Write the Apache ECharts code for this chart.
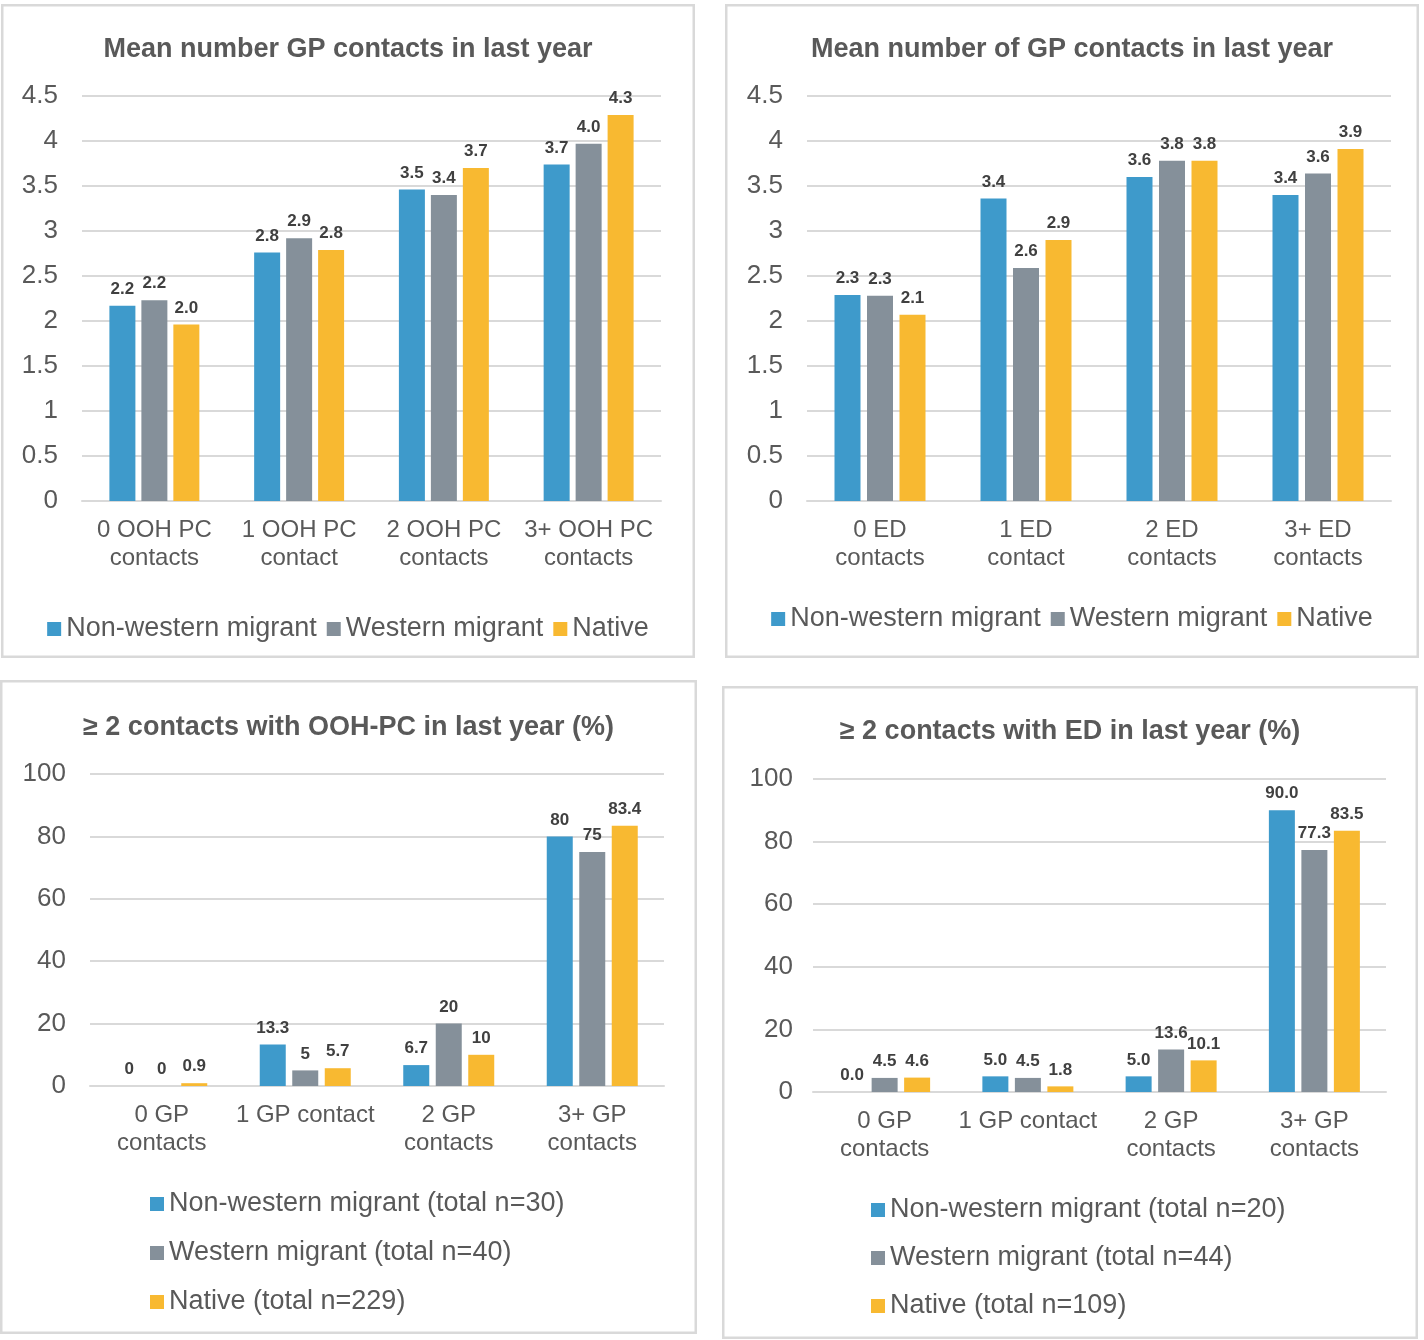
<!DOCTYPE html>
<html>
<head>
<meta charset="utf-8">
<script src="https://cdn.jsdelivr.net/npm/echarts@6/dist/echarts.min.js"></script>
<style>
html,body{margin:0;padding:0;background:#fff;}
body{width:1424px;height:1340px;position:relative;overflow:hidden;}
.p{position:absolute;}
</style>
</head>
<body>
<div id="tl" class="p" style="left:1px;top:4px;width:694px;height:654px;"></div>
<div id="tr" class="p" style="left:725px;top:4px;width:694px;height:654px;"></div>
<div id="bl" class="p" style="left:0px;top:680px;width:697px;height:654px;"></div>
<div id="br" class="p" style="left:722px;top:686px;width:696px;height:653px;"></div>
<script>
// ---- Data ----
const catsOOH = ['0 OOH PC\ncontacts', '1 OOH PC\ncontact', '2 OOH PC\ncontacts', '3+ OOH PC\ncontacts'];
const catsED = ['0 ED\ncontacts', '1 ED\ncontact', '2 ED\ncontacts', '3+ ED\ncontacts'];
const catsGP = ['0 GP\ncontacts', '1 GP contact', '2 GP\ncontacts', '3+ GP\ncontacts'];

const groupsTop = ['Non-western migrant', 'Western migrant', 'Native'];
const groupsBL = ['Non-western migrant (total n=30)', 'Western migrant (total n=40)', 'Native (total n=229)'];
const groupsBR = ['Non-western migrant (total n=20)', 'Western migrant (total n=44)', 'Native (total n=109)'];

// Top-left: mean number GP contacts by OOH PC contacts
const tlNonWestern = [2.17, 2.76, 3.46, 3.74];
const tlWestern = [2.23, 2.92, 3.40, 3.97];
const tlNative = [1.96, 2.79, 3.70, 4.29];

// Top-right: mean number GP contacts by ED contacts
const trNonWestern = [2.29, 3.36, 3.60, 3.40];
const trWestern = [2.28, 2.59, 3.78, 3.64];
const trNative = [2.07, 2.90, 3.78, 3.91];

// Bottom-left: >=2 contacts with OOH-PC (%)
const blNonWestern = [0, 13.3, 6.7, 80];
const blWestern = [0, 5, 20, 75];
const blNative = [0.9, 5.7, 10, 83.4];

// Bottom-right: >=2 contacts with ED (%)
const brNonWestern = [0.0, 5.0, 5.0, 90.0];
const brWestern = [4.5, 4.5, 13.6, 77.3];
const brNative = [4.6, 1.8, 10.1, 83.5];

const titles = [
  'Mean number GP contacts in last year',
  'Mean number of GP contacts in last year',
  '\u2265 2 contacts with OOH-PC in last year (%)',
  '\u2265 2 contacts with ED in last year (%)'
];

// ---- Styling ----
const COLORS = ['#3E9ACB', '#85909A', '#F8B931'];
const FONT = '"Liberation Sans", Arial, Helvetica, sans-serif';
const TXT = '#595959';

function build(el, cfg) {
  const chart = echarts.init(document.getElementById(el), null, {renderer: 'canvas'});
  const w = chart.getWidth(), h = chart.getHeight();
  const series = cfg.names.map((n, i) => ({
    name: n,
    type: 'bar',
    data: cfg.values[i],
    barWidth: cfg.barWidth,
    barGap: cfg.barGap,
    itemStyle: {color: COLORS[i]},
    label: {
      show: true,
      position: 'top',
      distance: 8,
      fontFamily: FONT,
      fontSize: 17,
      fontWeight: 'bold',
      color: '#404040',
      formatter: p => cfg.fmt(p.value)
    }
  }));
  const option = {
    animation: false,
    color: COLORS,
    graphic: [{
      type: 'rect',
      shape: {x: 1.25, y: 1.25, width: w - 2.5, height: h - 2.5},
      style: {fill: 'none', stroke: '#D9D9D9', lineWidth: 2.5},
      silent: true
    }],
    title: {
      text: cfg.title,
      left: 'center',
      top: cfg.titleTop,
      textStyle: {fontFamily: FONT, fontSize: 27, fontWeight: 'bold', color: TXT, lineHeight: 30}
    },
    legend: Object.assign({
      data: cfg.names,
      icon: 'rect',
      itemWidth: 14,
      itemHeight: 14,
      textStyle: {fontFamily: FONT, fontSize: 27, color: TXT, lineHeight: 30}
    }, cfg.legend),
    grid: cfg.grid,
    xAxis: {
      type: 'category',
      data: cfg.cats,
      axisTick: {show: false},
      axisLine: {show: true, lineStyle: {color: '#D9D9D9', width: 2}},
      axisLabel: {fontFamily: FONT, fontSize: 24, color: TXT, margin: 15, lineHeight: 28, interval: 0}
    },
    yAxis: {
      type: 'value',
      min: 0,
      max: cfg.max,
      interval: cfg.interval,
      axisLine: {show: false},
      axisTick: {show: false},
      axisLabel: {fontFamily: FONT, fontSize: 26, color: TXT, margin: cfg.yMargin},
      splitLine: {lineStyle: {color: '#D9D9D9', width: 2}}
    },
    series: series
  };
  chart.setOption(option);
}

const fix1 = v => v.toFixed(1);
const raw = v => String(v);

build('tl', {
  title: titles[0], titleTop: 26, cats: catsOOH, names: groupsTop,
  values: [tlNonWestern, tlWestern, tlNative], fmt: fix1,
  max: 4.5, interval: 0.5, yMargin: 24,
  grid: {left: 81, right: 34, top: 92, bottom: 157},
  barWidth: 26, barGap: '23%',
  legend: {left: 'center', top: 605, itemGap: 10}
});
build('tr', {
  title: titles[1], titleTop: 26, cats: catsED, names: groupsTop,
  values: [trNonWestern, trWestern, trNative], fmt: fix1,
  max: 4.5, interval: 0.5, yMargin: 24,
  grid: {left: 82, right: 28, top: 92, bottom: 157},
  barWidth: 26, barGap: '25%',
  legend: {left: 'center', top: 595, itemGap: 10}
});
build('bl', {
  title: titles[2], titleTop: 28, cats: catsGP, names: groupsBL,
  values: [blNonWestern, blWestern, blNative], fmt: raw,
  max: 100, interval: 20, yMargin: 24,
  grid: {left: 90, right: 33, top: 94, bottom: 248},
  barWidth: 26, barGap: '25%',
  legend: {left: 145, top: 504, orient: 'vertical', itemGap: 19}
});
build('br', {
  title: titles[3], titleTop: 26, cats: catsGP, names: groupsBR,
  values: [brNonWestern, brWestern, brNative], fmt: fix1,
  max: 100, interval: 20, yMargin: 20,
  grid: {left: 91, right: 32, top: 93, bottom: 247},
  barWidth: 26, barGap: '25%',
  legend: {left: 144, top: 504, orient: 'vertical', itemGap: 18}
});
</script>
</body>
</html>
